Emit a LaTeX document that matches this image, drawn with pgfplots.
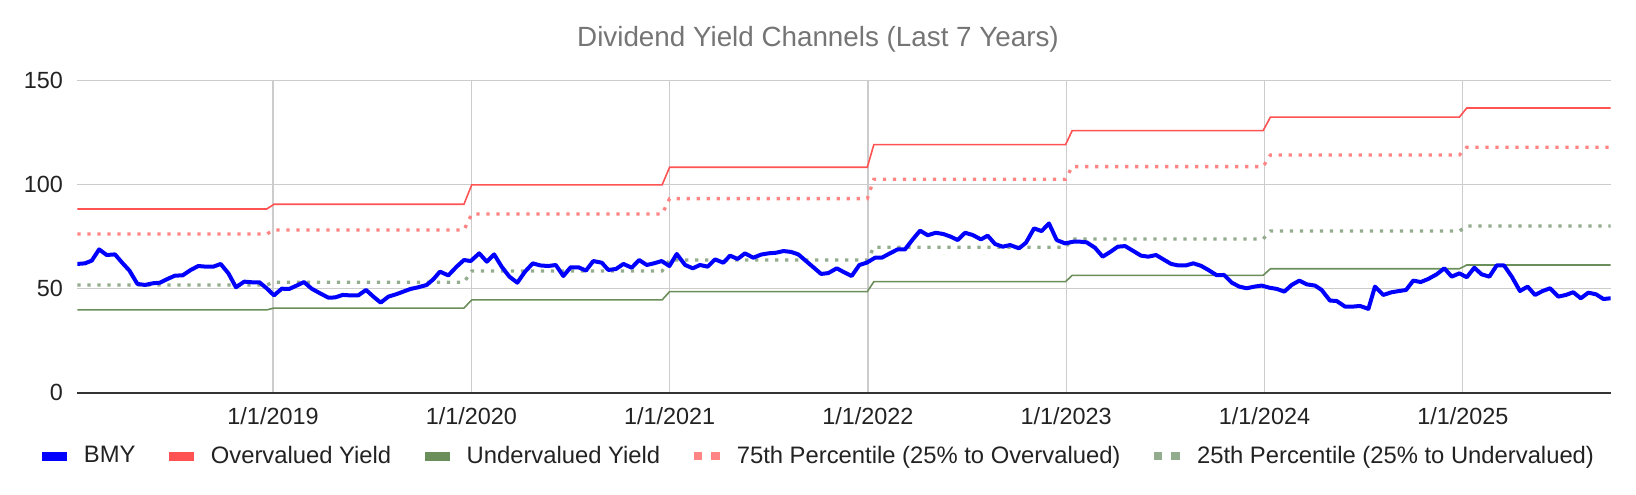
\documentclass[border=0pt]{standalone}
\usepackage{fontspec}
\setmainfont{Liberation Sans}
\usepackage{pgfplots}
\usepackage{pgfplotstable}
\pgfplotsset{compat=1.18}
\definecolor{bmy}{HTML}{0000FF}
\definecolor{over}{HTML}{FF5252}
\definecolor{under}{HTML}{6B8F5B}
\definecolor{pover}{HTML}{FF8585}
\definecolor{punder}{HTML}{93AC8E}
\definecolor{gridc}{HTML}{CCCCCC}
\definecolor{axisc}{HTML}{333333}
\definecolor{titlec}{HTML}{757575}
\definecolor{textc}{HTML}{222222}

\pgfplotstableread{
x over p75 p25 under
2018.013 88.3 76.3 51.8 39.8
2018.968 88.3 76.3 51.8 39.8
2019.005 90.6 78.2 53.1 40.7
2019.963 90.6 78.2 53.1 40.7
2020.002 99.9 85.9 58.5 44.6
2020.962 99.9 85.9 58.5 44.6
2021.000 108.4 93.3 63.8 48.6
2021.997 108.4 93.3 63.8 48.6
2022.030 119.3 102.6 69.9 53.4
2022.997 119.3 102.6 69.9 53.4
2023.030 126.0 108.7 73.9 56.4
2023.993 126.0 108.7 73.9 56.4
2024.030 132.5 114.3 77.7 59.6
2024.983 132.5 114.3 77.7 59.6
2025.020 136.9 118.0 80.1 61.4
2025.746 136.9 118.0 80.1 61.4
}\bands

\pgfplotstableread{
x y
2018.013 61.9
2018.052 62.2
2018.086 63.5
2018.123 68.9
2018.161 66.2
2018.203 66.5
2018.242 62.2
2018.276 58.7
2018.316 52.3
2018.355 51.8
2018.393 52.6
2018.430 52.9
2018.464 54.5
2018.506 56.3
2018.544 56.4
2018.585 59.0
2018.623 60.9
2018.662 60.6
2018.699 60.6
2018.736 61.9
2018.775 57.4
2018.813 50.7
2018.855 53.4
2018.892 53.1
2018.931 53.1
2018.968 50.2
2019.005 46.8
2019.044 50.0
2019.082 49.9
2019.119 51.5
2019.156 53.2
2019.195 50.0
2019.237 47.8
2019.279 45.7
2019.313 45.8
2019.351 47.0
2019.388 46.8
2019.430 46.8
2019.469 49.4
2019.506 46.2
2019.543 43.3
2019.582 46.2
2019.620 47.3
2019.657 48.6
2019.694 49.9
2019.733 50.7
2019.775 51.8
2019.808 54.5
2019.842 58.2
2019.884 56.4
2019.926 60.6
2019.963 63.8
2019.997 63.3
2020.040 67.0
2020.078 63.0
2020.115 66.5
2020.153 60.6
2020.192 55.8
2020.232 52.9
2020.271 58.2
2020.310 62.2
2020.347 61.2
2020.388 60.9
2020.426 61.4
2020.464 56.1
2020.501 60.3
2020.540 60.3
2020.578 58.7
2020.615 63.3
2020.658 62.5
2020.691 59.0
2020.730 59.5
2020.767 61.9
2020.809 60.1
2020.846 63.8
2020.885 61.4
2020.921 62.2
2020.960 63.3
2020.999 60.9
2021.036 66.7
2021.078 61.4
2021.117 59.8
2021.153 61.4
2021.192 60.6
2021.229 64.1
2021.271 62.5
2021.305 65.9
2021.343 64.3
2021.380 67.0
2021.422 64.9
2021.461 66.4
2021.498 67.0
2021.537 67.3
2021.574 68.1
2021.612 67.7
2021.649 66.5
2021.688 63.3
2021.725 60.3
2021.764 57.1
2021.800 57.5
2021.843 59.8
2021.880 57.9
2021.918 56.1
2021.957 61.4
2021.994 62.5
2022.036 64.9
2022.070 64.9
2022.111 67.0
2022.150 68.9
2022.187 68.9
2022.226 73.7
2022.263 77.9
2022.302 75.7
2022.342 76.9
2022.380 76.3
2022.418 75.0
2022.453 73.4
2022.490 76.9
2022.529 75.8
2022.570 73.7
2022.604 75.5
2022.641 71.5
2022.680 70.2
2022.717 71.0
2022.762 69.4
2022.797 72.1
2022.838 79.0
2022.876 77.7
2022.913 81.4
2022.952 73.4
2022.994 71.8
2023.036 72.6
2023.070 72.6
2023.103 72.3
2023.145 69.7
2023.184 65.4
2023.224 67.8
2023.260 70.2
2023.297 70.5
2023.339 68.1
2023.377 65.9
2023.414 65.4
2023.453 66.2
2023.490 64.1
2023.529 61.9
2023.565 61.2
2023.604 61.2
2023.641 62.2
2023.680 61.0
2023.717 59.0
2023.759 56.5
2023.796 56.6
2023.835 52.9
2023.873 51.0
2023.910 50.2
2023.949 51.0
2023.986 51.5
2024.024 50.5
2024.062 49.9
2024.100 48.6
2024.137 51.8
2024.176 53.9
2024.213 52.1
2024.255 51.5
2024.288 49.4
2024.330 44.3
2024.364 44.1
2024.406 41.4
2024.445 41.4
2024.482 41.7
2024.524 40.3
2024.557 51.0
2024.599 47.0
2024.641 48.3
2024.680 48.9
2024.714 49.4
2024.750 53.9
2024.788 53.2
2024.826 54.7
2024.868 56.9
2024.907 59.8
2024.944 55.8
2024.983 57.4
2025.020 55.5
2025.058 60.1
2025.095 56.9
2025.134 55.8
2025.171 61.2
2025.208 61.2
2025.247 55.8
2025.288 48.9
2025.327 51.0
2025.364 47.0
2025.403 48.9
2025.440 50.2
2025.482 46.2
2025.520 47.0
2025.557 48.3
2025.595 45.4
2025.633 48.1
2025.672 47.3
2025.709 45.05
2025.746 45.4
}\bmydata

\pgfplotsset{
  solidleg/.style={legend image code/.code={\fill (0pt,-2pt) rectangle (12pt,2pt);}},
  dotleg/.style={legend image code/.code={\fill (0pt,-1.9pt) rectangle (3.8pt,1.9pt); \fill (8.8pt,-1.9pt) rectangle (12.6pt,1.9pt);}},
}

\begin{document}
\begin{tikzpicture}
\useasboundingbox (0,0) rectangle (818pt,247pt);
\begin{axis}[
  at={(38.65pt,50.65pt)}, anchor=south west,
  scale only axis, width=766.7pt, height=156pt,
  xmin=2018.013, xmax=2025.746, ymin=0, ymax=150,
  xtick={2019,2020,2021,2022,2023,2024,2025},
  xticklabels={1/1/2019,1/1/2020,1/1/2021,1/1/2022,1/1/2023,1/1/2024,1/1/2025},
  ytick={0,50,100,150},
  major tick length=0pt,
  axis x line*=bottom, axis y line*=left,
  x axis line style={draw=axisc, line width=1pt},
  y axis line style={draw=none},
  grid=major,
  major grid style={draw=gridc, line width=0.6pt},
  /pgf/number format/assume math mode=true,
  tick label style={font=\fontsize{11.7}{14}\selectfont, text=textc, inner sep=0pt},
  yticklabel style={anchor=east, xshift=-7pt},
  xticklabel style={anchor=north, yshift=-7.4pt},
  legend columns=5,
  legend style={draw=none, fill=none, inner sep=0pt, at={(0.4830,-0.2029)}, anchor=center,
    font=\fontsize{11.9}{14}\selectfont, text=textc,
    nodes={inner sep=0pt},
    /tikz/every odd column/.append style={column sep=8.6pt},
    /tikz/every even column/.append style={column sep=16.7pt}},
]
\addlegendimage{bmy, solidleg}
\addlegendentry{BMY}
\addlegendimage{over, solidleg}
\addlegendentry{Overvalued Yield}
\addlegendimage{under, solidleg}
\addlegendentry{Undervalued Yield}
\addlegendimage{pover, dotleg}
\addlegendentry{75th Percentile (25\% to Overvalued)}
\addlegendimage{punder, dotleg}
\addlegendentry{25th Percentile (25\% to Undervalued)}

\addplot[forget plot, color=over, line width=0.8pt] table[x=x,y=over]{\bands};
\addplot[forget plot, color=under, line width=0.8pt] table[x=x,y=under]{\bands};
\addplot[forget plot, color=pover, line width=1.65pt, dash pattern=on 1.65pt off 3.35pt] table[x=x,y=p75]{\bands};
\addplot[forget plot, color=punder, line width=1.65pt, dash pattern=on 1.65pt off 3.35pt] table[x=x,y=p25]{\bands};
\addplot[forget plot, color=bmy, line width=2pt, line join=round] table[x=x,y=y]{\bmydata};
\end{axis}
\node[anchor=base, text=titlec, font=\fontsize{13.9}{16}\selectfont, inner sep=0pt] at (409pt,223.65pt) {Dividend Yield Channels (Last 7 Years)};
\end{tikzpicture}
\end{document}
